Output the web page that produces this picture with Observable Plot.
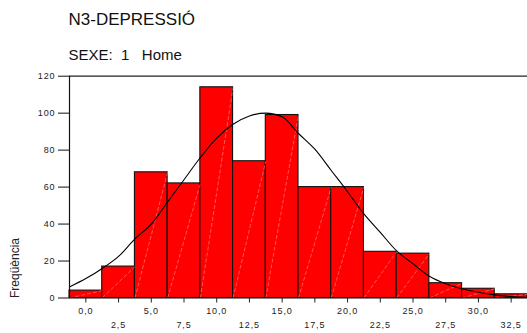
<!DOCTYPE html>
<html>
<head>
<meta charset="utf-8">
<script src="https://cdn.jsdelivr.net/npm/d3@7"></script>
<script src="https://cdn.jsdelivr.net/npm/@observablehq/plot@0.6"></script>
<style>
  html, body { margin: 0; padding: 0; background: #fff; }
  #chart { width: 527px; height: 333px; }
</style>
</head>
<body>
<div id="chart"></div>
<script>
// Bin centers (N3-DEPRESSIÓ score) and frequencies
const binCenters = [0, 2.5, 5, 7.5, 10, 12.5, 15, 17.5, 20, 22.5, 25, 27.5, 30, 32.5];
const frequencies = [4, 17, 68, 62, 114, 74, 99, 60, 60, 25, 24, 8, 5, 2];
const binWidth = 2.5;

// Normal curve
const curveX = [-1.25, 0, 1.25, 2.5, 3.75, 5, 6.25, 7.5, 8.75, 10, 11.25, 12.5, 13.75, 15, 16.25, 17.5, 18.75, 20, 21.25, 22.5, 23.75, 25, 26.25, 27.5, 28.75, 30, 31.25, 32.5, 33.75];
const curveY = [6, 10.5, 16, 22.5, 32, 40, 52, 64, 76, 86.5, 94, 98.5, 100, 98, 89, 80.5, 69, 57.5, 45.5, 35.5, 25.5, 18.5, 11.8, 7.7, 5, 3.1, 1.7, 0.8, 0.4];

const xMajorTicks = [0, 5, 10, 15, 20, 25, 30];
const xMinorTicks = [2.5, 7.5, 12.5, 17.5, 22.5, 27.5, 32.5];
const yTicks = [0, 20, 40, 60, 80, 100, 120];

const titleText = "N3-DEPRESSIÓ";
const subtitleText = "SEXE:  1   Home";
const yLabel = "Freqüència";

const bars = binCenters.map((c, i) => ({x1: c - binWidth / 2, x2: c + binWidth / 2, y: frequencies[i]}));
const curve = curveX.map((x, i) => ({x, y: curveY[i]}));
const fmt = d => d.toFixed(1).replace(".", ",");

const font = "'Liberation Sans', Arial, sans-serif";

const svg = Plot.plot({
  width: 527,
  height: 333,
  marginLeft: 69,
  marginRight: 0,
  marginTop: 75.7,
  marginBottom: 35.5,
  style: {fontFamily: font, fontSize: "9px", color: "#222", background: "#fff", overflow: "visible"},
  x: {domain: [-1.25, 33.75]},
  y: {domain: [0, 120]},
  marks: [
    Plot.rect(bars, {x1: "x1", x2: "x2", y1: 0, y2: "y", fill: "#ff0000", stroke: "#111", strokeWidth: 1.1}),
    Plot.link(bars, {x1: "x1", y1: 0, x2: "x2", y2: "y", stroke: "#ffb0b0", strokeWidth: 0.6, strokeOpacity: 0.8, strokeDasharray: "4,2"}),
    Plot.line(curve, {x: "x", y: "y", stroke: "#000", strokeWidth: 1.1, curve: "monotone-x"}),
    Plot.ruleY([120], {stroke: "#222", strokeWidth: 1.2}),
    Plot.ruleY([0], {stroke: "#111", strokeWidth: 1.2}),
    Plot.ruleX([-1.25], {stroke: "#111", strokeWidth: 1.2}),
    Plot.axisY({ticks: yTicks, tickSize: 11, tickPadding: 3, label: null, stroke: "#111"}),
    Plot.axisX({ticks: xMajorTicks, tickSize: 5, tickPadding: 5, tickFormat: fmt, label: null}),
    Plot.axisX({ticks: xMinorTicks, tickSize: 5, tickPadding: 19, tickFormat: fmt, label: null})
  ]
});

const s = d3.select(svg);
s.selectAll("g[aria-label$='axis tick label'] text").attr("letter-spacing", "0.9px");
s.append("text").attr("x", 68.5).attr("y", 25).attr("text-anchor", "start").attr("font-size", "17px").attr("font-family", font).attr("fill", "#111").text(titleText);
s.append("text").attr("x", 68.5).attr("y", 60).attr("text-anchor", "start").attr("font-size", "15px").attr("font-family", font).attr("fill", "#111").attr("xml:space", "preserve").style("white-space", "pre").text(subtitleText);
s.append("text").attr("transform", "translate(19,298) rotate(-90)").attr("text-anchor", "start").attr("font-size", "12px").attr("font-family", font).attr("fill", "#222").text(yLabel);

document.getElementById("chart").appendChild(svg);
</script>
</body>
</html>
